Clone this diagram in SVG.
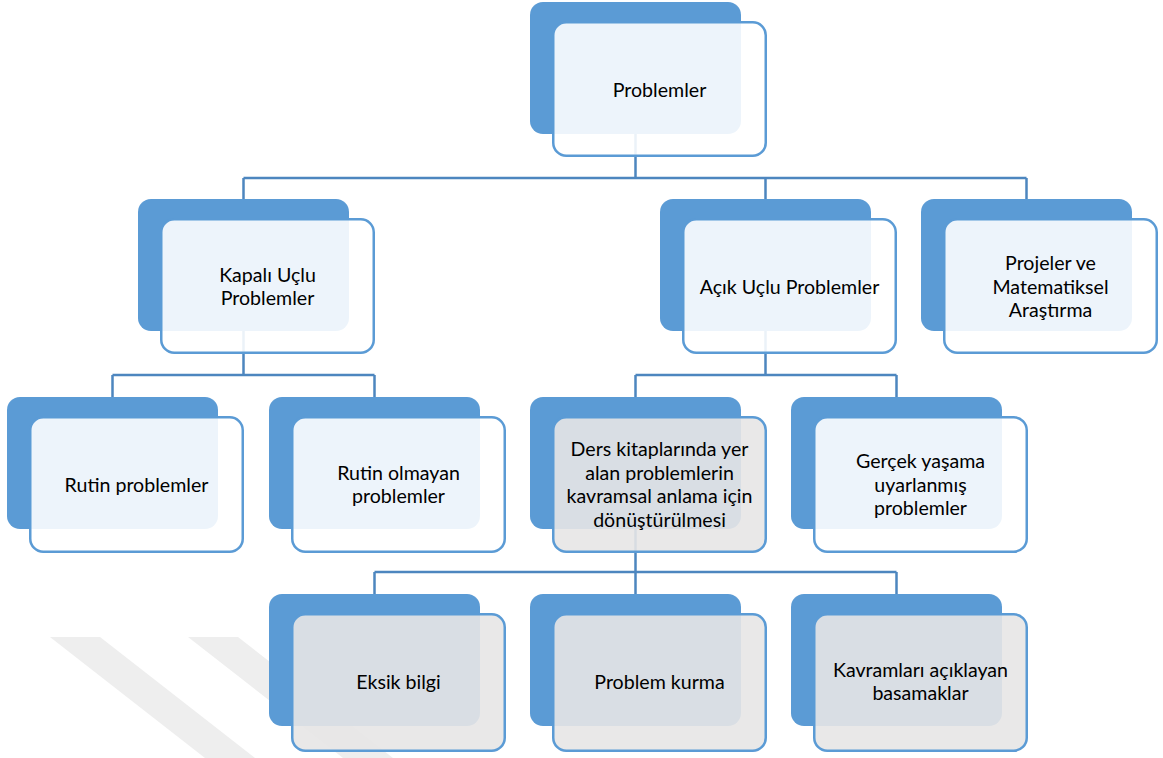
<svg xmlns="http://www.w3.org/2000/svg" width="1163" height="758" viewBox="0 0 1163 758">
  <style>
    .back { fill: #5b9bd5; }
    .front { fill: #ffffff; fill-opacity: 0.89; stroke: #5b9bd5; stroke-width: 2.5; }
    .front.grey { fill: #e7e6e6; fill-opacity: 0.9; }
    .lbl { font-family: Lato, "Open Sans", "Liberation Sans", sans-serif; font-size: 19.6px; fill: #000; text-anchor: middle; }
    .conn { fill: none; stroke: #4d86bf; stroke-width: 2.5; }
    .wm { fill: #eeeeee; }
  </style>
  <rect width="1163" height="758" fill="#ffffff"/>
  <g id="watermark">
    <polygon class="wm" points="50,637 100,637 255,758 205,758"/>
    <polygon class="wm" points="188,637 238,637 393,758 343,758"/>
  </g>
  <g id="connectors">
    <path class="conn" d="M635.5,133 V178 M243.5,178 H1026.5 M243.5,178 V199 M765.5,178 V199 M1026.5,178 V199"/>
    <path class="conn" d="M243.5,331 V375 M112.5,375 H374.5 M112.5,375 V397 M374.5,375 V397"/>
    <path class="conn" d="M765.5,331 V375 M635.5,375 H896.5 M635.5,375 V397 M896.5,375 V397"/>
    <path class="conn" d="M635.5,529 V572 M374.5,572 H896.5 M374.5,572 V594 M635.5,572 V594 M896.5,572 V594"/>
  </g>
  <g id="n-problemler">
    <rect class="back" x="530" y="2" width="211" height="132" rx="13"/>
    <rect class="front" x="553.25" y="22.25" width="212.5" height="133.5" rx="13"/>
    <text class="lbl" x="659.5" y="96.5">Problemler</text>
  </g>
  <g id="n-kapali">
    <rect class="back" x="138" y="199" width="211" height="132" rx="13"/>
    <rect class="front" x="161.25" y="219.25" width="212.5" height="133.5" rx="13"/>
    <text class="lbl" x="267.5" y="281.8">Kapalı Uçlu</text>
    <text class="lbl" x="267.5" y="305.2">Problemler</text>
  </g>
  <g id="n-acik">
    <rect class="back" x="660" y="199" width="211" height="132" rx="13"/>
    <rect class="front" x="683.25" y="219.25" width="212.5" height="133.5" rx="13"/>
    <text class="lbl" x="789.5" y="293.5">Açık Uçlu Problemler</text>
  </g>
  <g id="n-projeler">
    <rect class="back" x="921" y="199" width="211" height="132" rx="13"/>
    <rect class="front" x="944.25" y="219.25" width="212.5" height="133.5" rx="13"/>
    <text class="lbl" x="1050.5" y="270.1">Projeler ve</text>
    <text class="lbl" x="1050.5" y="293.5">Matematiksel</text>
    <text class="lbl" x="1050.5" y="316.9">Araştırma</text>
  </g>
  <g id="n-rutin">
    <rect class="back" x="7" y="397" width="211" height="132" rx="13"/>
    <rect class="front" x="30.25" y="417.25" width="212.5" height="134.5" rx="13"/>
    <text class="lbl" x="136.5" y="491.5">Rutin problemler</text>
  </g>
  <g id="n-rutin-olmayan">
    <rect class="back" x="269" y="397" width="211" height="132" rx="13"/>
    <rect class="front" x="292.25" y="417.25" width="212.5" height="134.5" rx="13"/>
    <text class="lbl" x="398.5" y="479.8">Rutin olmayan</text>
    <text class="lbl" x="398.5" y="503.2">problemler</text>
  </g>
  <g id="n-ders">
    <rect class="back" x="530" y="397" width="211" height="132" rx="13"/>
    <rect class="front grey" x="553.25" y="417.25" width="212.5" height="134.5" rx="13"/>
    <text class="lbl" x="659.5" y="456.4">Ders kitaplarında yer</text>
    <text class="lbl" x="659.5" y="479.8">alan problemlerin</text>
    <text class="lbl" x="659.5" y="503.2">kavramsal anlama için</text>
    <text class="lbl" x="659.5" y="526.6">dönüştürülmesi</text>
  </g>
  <g id="n-gercek">
    <rect class="back" x="791" y="397" width="211" height="132" rx="13"/>
    <rect class="front" x="814.25" y="417.25" width="212.5" height="134.5" rx="13"/>
    <text class="lbl" x="920.5" y="468.1">Gerçek yaşama</text>
    <text class="lbl" x="920.5" y="491.5">uyarlanmış</text>
    <text class="lbl" x="920.5" y="514.9">problemler</text>
  </g>
  <g id="n-eksik">
    <rect class="back" x="269" y="594" width="211" height="132" rx="13"/>
    <rect class="front grey" x="292.25" y="614.25" width="212.5" height="136.5" rx="13"/>
    <text class="lbl" x="398.5" y="688.5">Eksik bilgi</text>
  </g>
  <g id="n-kurma">
    <rect class="back" x="530" y="594" width="211" height="132" rx="13"/>
    <rect class="front grey" x="553.25" y="614.25" width="212.5" height="136.5" rx="13"/>
    <text class="lbl" x="659.5" y="688.5">Problem kurma</text>
  </g>
  <g id="n-kavramlari">
    <rect class="back" x="791" y="594" width="211" height="132" rx="13"/>
    <rect class="front grey" x="814.25" y="614.25" width="212.5" height="136.5" rx="13"/>
    <text class="lbl" x="920.5" y="676.8">Kavramları açıklayan</text>
    <text class="lbl" x="920.5" y="700.2">basamaklar</text>
  </g>
</svg>
